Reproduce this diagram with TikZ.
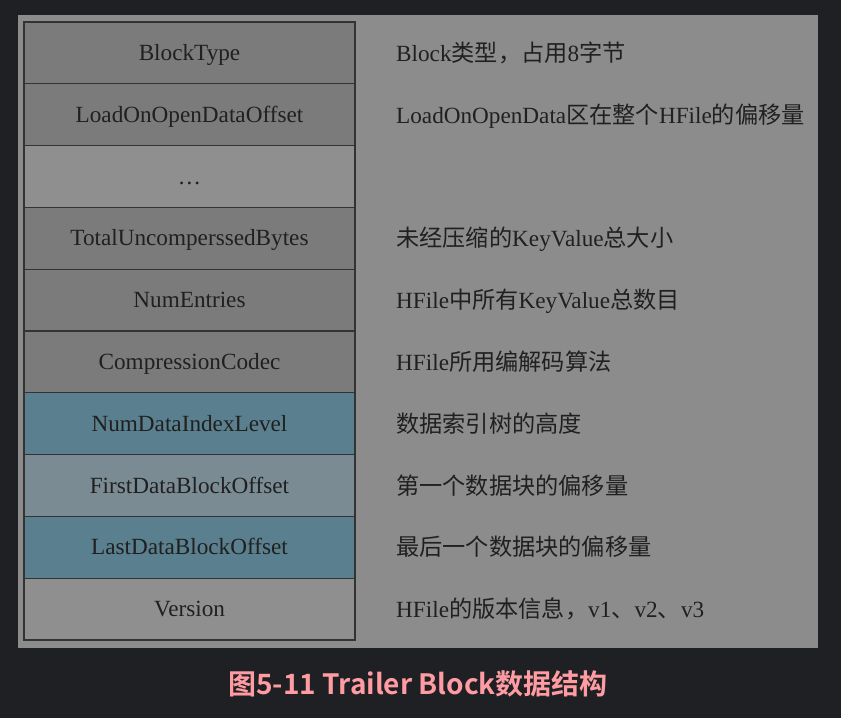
\documentclass[tikz,border=0pt]{standalone}
\usepackage{fontspec}
\setmainfont{Liberation Serif}
\newfontfamily\cjk{Noto Sans CJK SC}
\newfontfamily\capfont{Noto Sans CJK SC Bold}
\usepackage{xcolor}
\usetikzlibrary{positioning}

\definecolor{pagebg}{HTML}{1F2023}
\definecolor{panelgray}{HTML}{8C8C8C}
\definecolor{darkgray}{HTML}{7B7B7B}
\definecolor{lightgray}{HTML}{8F8F8F}
\definecolor{tealcell}{HTML}{5A7F8E}
\definecolor{paleteal}{HTML}{7A8B93}
\definecolor{cellline}{HTML}{333333}
\definecolor{inktext}{HTML}{202020}
\definecolor{captionpink}{HTML}{FF9CA3}

\begin{document}
\begin{tikzpicture}[
  x=1pt, y=-1pt,
  font=\fontsize{23.2}{26}\selectfont,
  cell/.style      = {draw=cellline, line width=1.2pt, outer sep=0pt, inner sep=0pt,
                      minimum width=331pt, minimum height=61.8pt, text=inktext,
                      text height=16.2pt, text depth=1pt},
  darkcell/.style  = {cell, fill=darkgray},
  lightcell/.style = {cell, fill=lightgray},
  tealbox/.style   = {cell, fill=tealcell},
  palebox/.style   = {cell, fill=paleteal},
  desc/.style      = {inner sep=0pt, text=inktext, text height=17pt, text depth=0pt}
]

% ---- page and panel -------------------------------------------------------
\fill[pagebg] (0,0) rectangle (841,718);
\fill[panelgray] (18,15) rectangle (818,648);

% ---- trailer fields -------------------------------------------------------
\node[darkcell, anchor=north west] (blocktype) at (24,22) {BlockType};
\node[darkcell, below=0pt of blocktype] (loadoffset) {LoadOnOpenDataOffset};
\node[lightcell, below=0pt of loadoffset] (more) {…};
\node[darkcell, below=0pt of more] (totalbytes) {TotalUncomperssedBytes};
\node[darkcell, below=0pt of totalbytes] (numentries) {NumEntries};
\node[darkcell, below=0pt of numentries] (codec) {CompressionCodec};
\node[tealbox, below=0pt of codec] (indexlevel) {NumDataIndexLevel};
\node[palebox, below=0pt of indexlevel] (firstoffset) {FirstDataBlockOffset};
\node[tealbox, below=0pt of firstoffset] (lastoffset) {LastDataBlockOffset};
\node[lightcell, below=0pt of lastoffset] (version) {Version};

% ---- descriptions ---------------------------------------------------------
\node[desc, right=41pt of blocktype] (blocktypeinfo)
  {Block{\cjk 类型，占用}8{\cjk 字节}};
\node[desc, right=41pt of loadoffset] (loadoffsetinfo)
  {LoadOnOpenData{\cjk 区在整个}HFile{\cjk 的偏移量}};
\node[desc, right=41pt of totalbytes] (totalbytesinfo)
  {{\cjk 未经压缩的}KeyValue{\cjk 总大小}};
\node[desc, right=41pt of numentries] (numentriesinfo)
  {HFile{\cjk 中所有}KeyValue{\cjk 总数目}};
\node[desc, right=41pt of codec] (codecinfo)
  {HFile{\cjk 所用编解码算法}};
\node[desc, right=41pt of indexlevel] (indexlevelinfo)
  {{\cjk 数据索引树的高度}};
\node[desc, right=41pt of firstoffset] (firstoffsetinfo)
  {{\cjk 第一个数据块的偏移量}};
\node[desc, right=41pt of lastoffset] (lastoffsetinfo)
  {{\cjk 最后一个数据块的偏移量}};
\node[desc, right=41pt of version] (versioninfo)
  {HFile{\cjk 的版本信息，}v1{\cjk 、}v2{\cjk 、}v3};

% ---- caption --------------------------------------------------------------
\node[font=\capfont\fontsize{28}{32}\selectfont, text=captionpink] (caption)
  at (418,684) {图5-11 Trailer Block数据结构};

\end{tikzpicture}
\end{document}
